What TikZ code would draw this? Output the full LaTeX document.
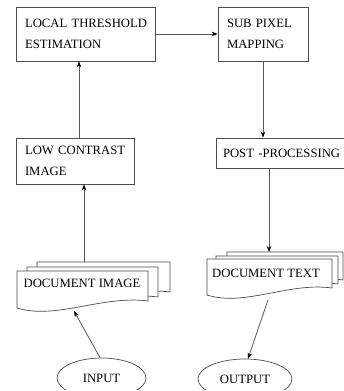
\documentclass[tikz,border=0pt]{standalone}
\usepackage{fontspec}
\setmainfont{Liberation Serif}
\usetikzlibrary{shapes.geometric,arrows.meta}
\newcommand\docshape[5]{%
  \filldraw[doclayer] (#1,#2) -- (#3,#2) -- (#3,#5)
    .. controls ({#1+0.65*(#3-#1)},{#5-6}) and ({#1+0.3*(#3-#1)},{#4+12}) .. (#1,#4) -- cycle;}
\tikzset{
  fs/.style={font=\fontsize{12.7}{21.5}\selectfont},
  box/.style={draw=black!70, line width=0.7pt, fill=white, align=left, inner ysep=0pt, fs},
  doclayer/.style={draw=black!70, line width=0.7pt, fill=white},
  oval/.style={ellipse, draw=black!70, line width=0.7pt, fill=white, inner sep=0pt, fs},
  arr/.style={draw=black!65, line width=0.8pt, -{Stealth[length=6pt,width=4.5pt,black]}}
}
\begin{document}
\begin{tikzpicture}[x=1pt,y=-1pt]
\fill[white] (0,0) rectangle (344,391);
\useasboundingbox (0,0) rectangle (344,391);
% process boxes
\node[box, inner xsep=9pt, text width=121pt, minimum height=54pt] (lte) at (85.5,34) {\mbox{LOCAL THRESHOLD}\\\mbox{ESTIMATION}};
\node[box, inner xsep=9pt, text width=72pt, minimum height=54pt] (spm) at (263,34) {\mbox{SUB PIXEL}\\\mbox{MAPPING}};
\node[box, inner xsep=9pt, text width=100pt, minimum height=46pt] (lci) at (75,161) {\mbox{LOW CONTRAST}\\\mbox{IMAGE}};
\node[box, inner xsep=7pt, text width=115pt, minimum height=30pt] (post) at (280.5,153) {\mbox{POST -PROCESSING}};
% document image stack
\docshape{37}{262}{170}{299}{292}
\docshape{27}{267}{158}{304}{297}
\docshape{17}{271}{148}{308}{301}
\node[fs] (dimg) at (82,283) {DOCUMENT IMAGE};
\coordinate (dimgtop) at (84,262);
\coordinate (dimgbot) at (74,311);
% document text stack
\docshape{227}{252}{343}{287}{280}
\docshape{216}{256}{338}{291}{284}
\docshape{207}{259}{332}{295}{288}
\node[fs] (dtxt) at (266,273) {DOCUMENT TEXT};
\coordinate (dtxttop) at (269,252);
\coordinate (dtxtbot) at (268,300);
% terminals
\begin{scope}
\clip (0,0) rectangle (344,389);
\node[oval, minimum width=89pt, minimum height=40pt] (inp) at (101.5,378) {INPUT};
\node[oval, minimum width=94pt, minimum height=40pt] (out) at (245,379) {OUTPUT};
\end{scope}
% connectors
\draw[arr] (lte.east) -- (spm.west);
\draw[arr] (spm.south) -- (spm.south |- post.north);
\draw[arr] (post.south -| dtxttop) -- (dtxttop);
\draw[arr] ([xshift=4pt]lci.north) -- ([xshift=4pt]lci.north |- lte.south);
\draw[arr] (dimgtop) -- (dimgtop |- lci.south);
\draw[arr] ([xshift=-1.5pt]inp.north) -- (dimgbot);
\draw[arr] (dtxtbot) -- ([xshift=3pt]out.north);
\end{tikzpicture}
\end{document}
